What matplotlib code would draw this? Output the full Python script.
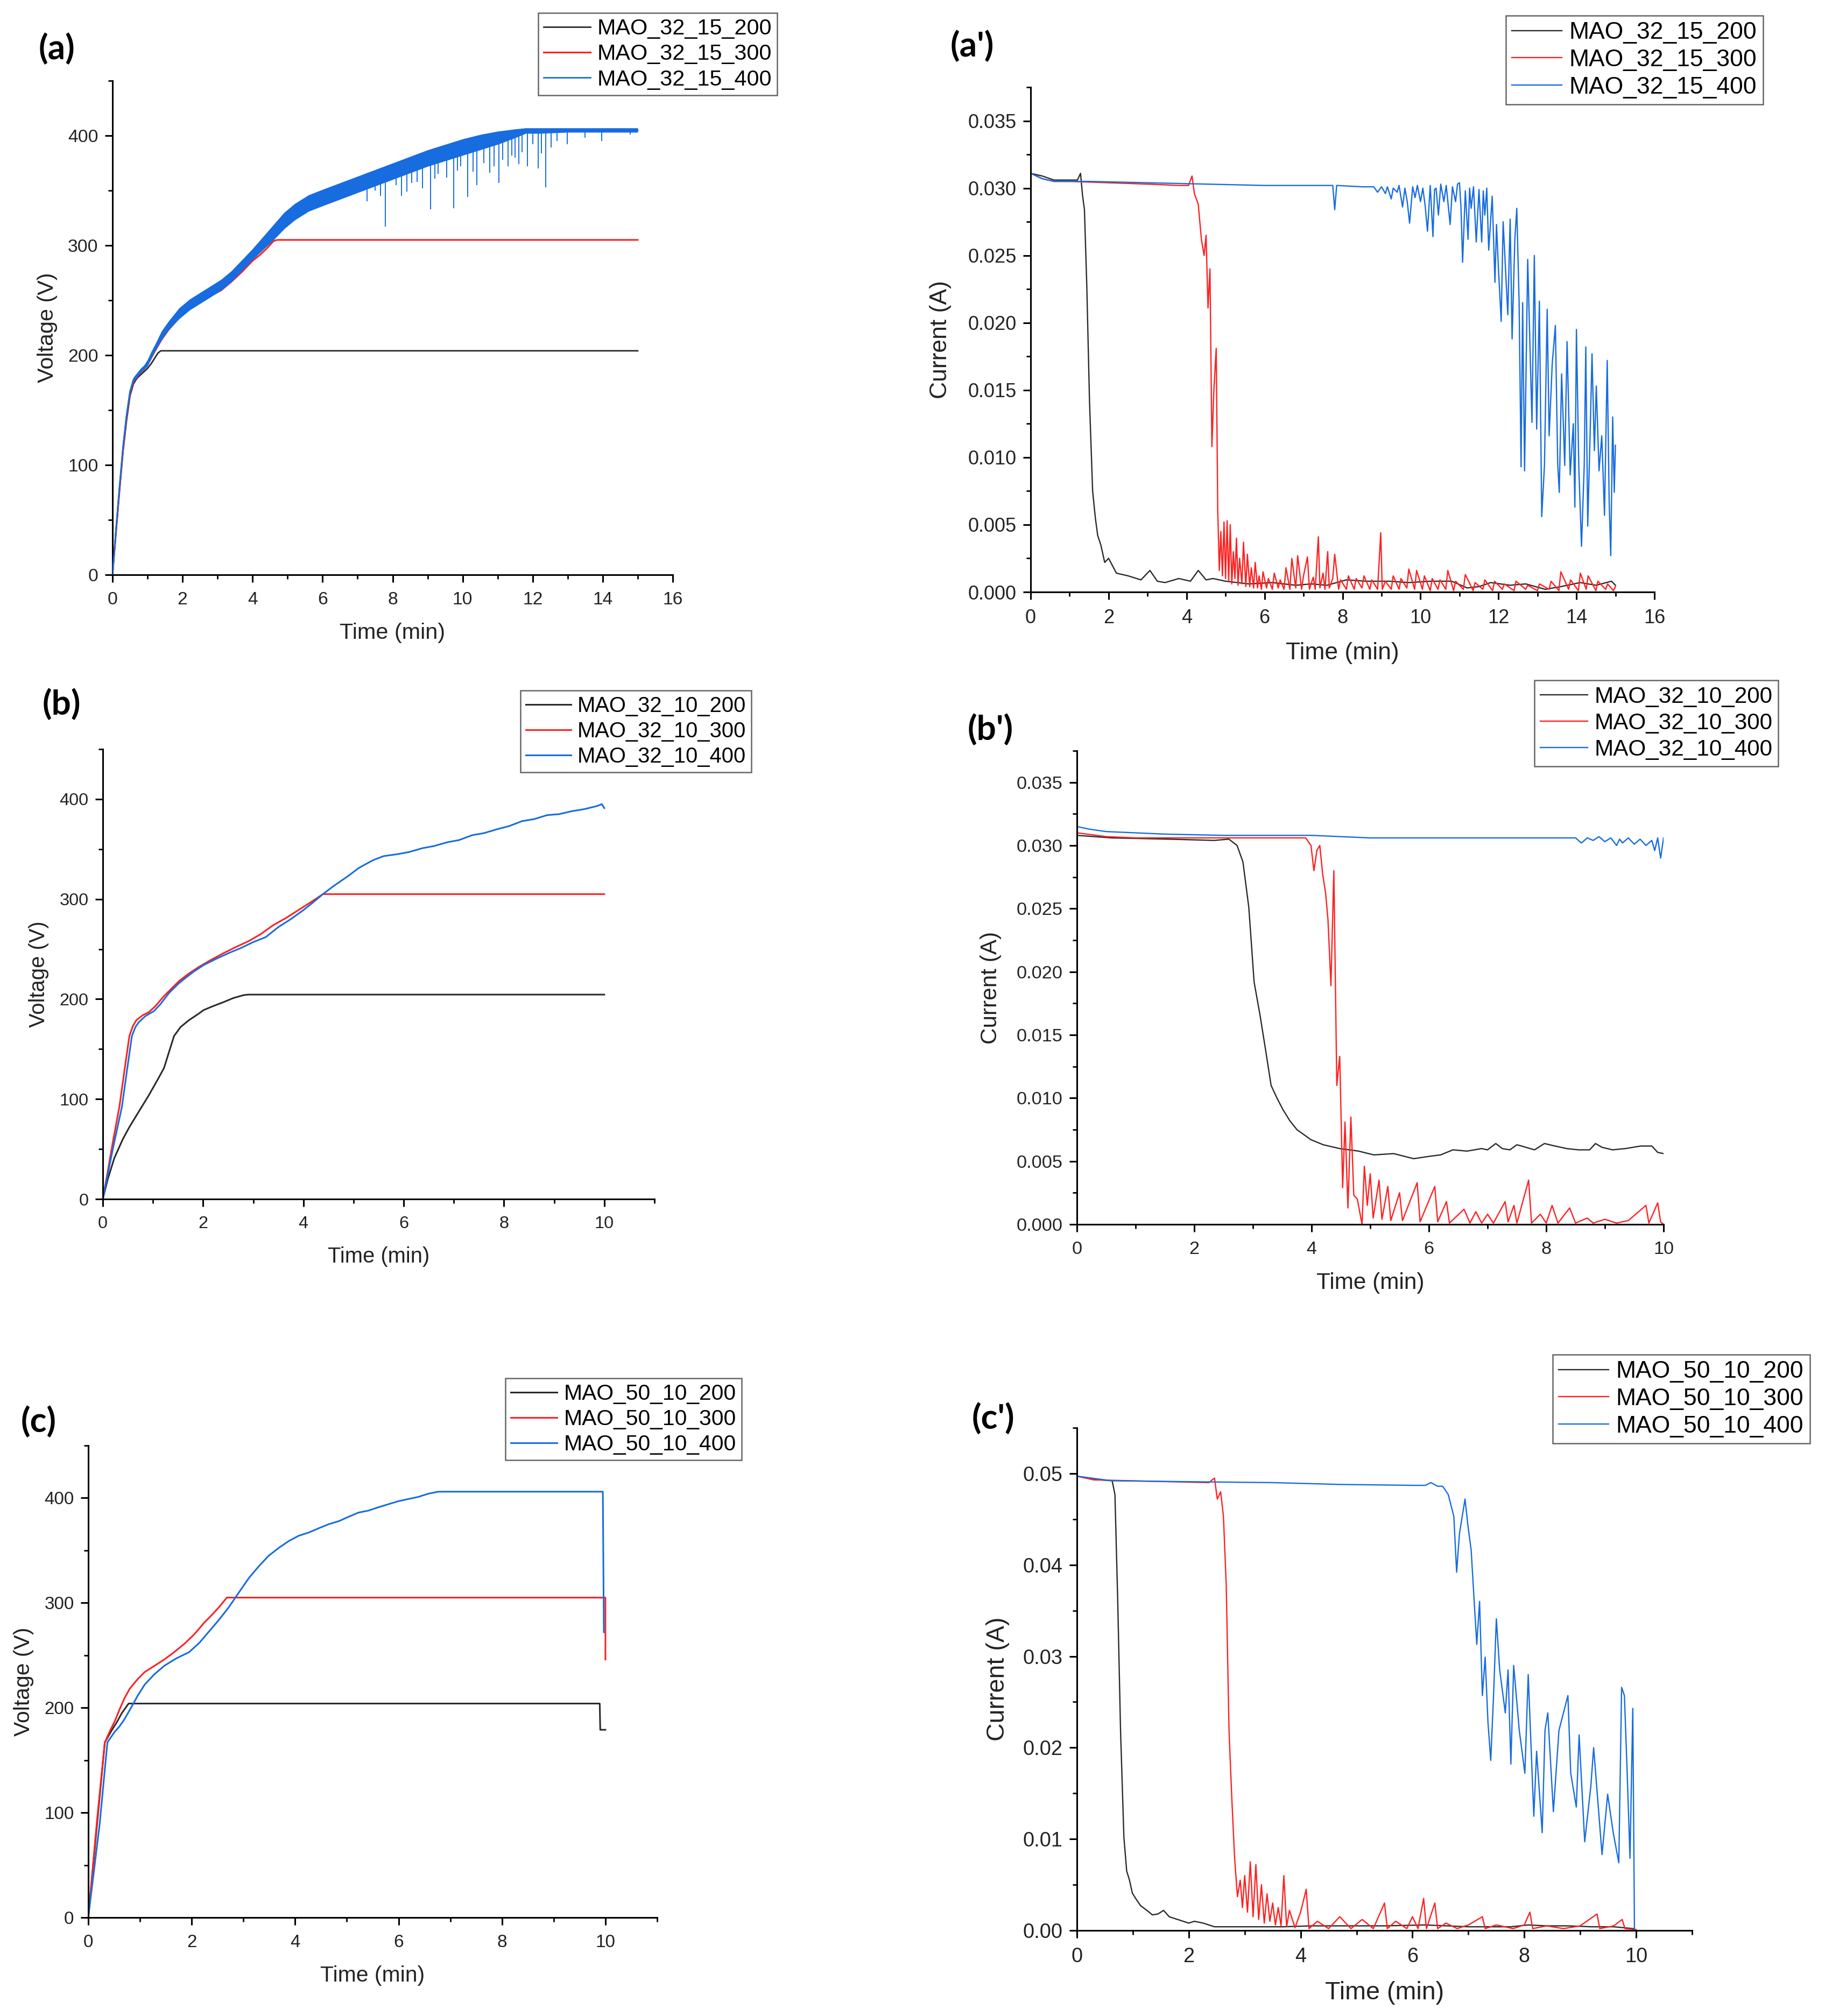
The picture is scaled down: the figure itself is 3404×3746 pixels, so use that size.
import numpy as np
import matplotlib
matplotlib.use('Agg')
import matplotlib.pyplot as plt
from matplotlib.ticker import MultipleLocator, FormatStrFormatter

plt.rcParams['font.family'] = ['Liberation Sans', 'DejaVu Sans']

BLACK = '#2a2a2a'
RED = '#ff2020'
BLUE = '#176ce0'

# ---------------- (a) voltage, 15 min runs ----------------
a_t200 = [0, 0.1, 0.2, 0.3, 0.4, 0.5, 0.6, 0.7, 0.8, 0.9,
          1.0, 1.1, 1.2, 1.3, 1.38, 15.0]
a_v200 = [0, 38, 76, 112, 140, 163, 174, 179, 182, 185,
          188, 192, 197, 202, 204, 204]

a_t300 = [0, 0.1, 0.2, 0.3, 0.4, 0.5, 0.6, 0.7, 0.8, 0.9,
          1.0, 1.1, 1.2, 1.4, 1.6, 1.9, 2.2, 2.5, 2.8, 3.1,
          3.4, 3.7, 4.0, 4.2, 4.4, 4.6, 4.7, 15.0]
a_v300 = [0, 40, 78, 114, 143, 165, 176, 180, 184, 187,
          191, 197, 203, 214, 223, 234, 242, 248, 254, 259,
          267, 276, 286, 291, 297, 304, 305, 305]

a_t400 = [0, 0.1, 0.2, 0.3, 0.4, 0.5, 0.6, 0.7, 0.8, 0.9,
          1.0, 1.1, 1.2, 1.4, 1.6, 1.9, 2.2, 2.5, 2.8, 3.1,
          3.4, 3.7, 4.0, 4.3, 4.6, 4.9, 5.2, 5.6, 6.0, 6.5,
          7.0, 7.5, 8.0, 8.5, 9.0, 9.5, 10.0, 10.5, 11.0, 11.5,
          11.8, 12.2, 13.0, 14.0, 15.0]
a_v400 = [0, 41, 80, 116, 145, 167, 178, 182, 186, 189,
          193, 200, 206, 218, 227, 238, 246, 252, 258, 264,
          272, 282, 292, 302, 312, 323, 331, 339, 344, 350,
          356, 362, 368, 374, 380, 385, 390, 395, 399, 403,
          405, 405, 405, 405, 405]
# upper / lower edge of the noisy blue band
a_v400_hi = [0, 43, 82, 118, 147, 169, 180, 184, 188, 191,
             196, 203, 209, 222, 231, 243, 251, 257, 263, 269,
             277, 287, 297, 308, 319, 330, 338, 346, 351, 357,
             363, 369, 375, 381, 387, 392, 397, 401, 404, 406,
             407, 407, 407, 407, 407]
a_v400_lo = [0, 39, 78, 114, 143, 165, 176, 180, 184, 187,
             190, 197, 203, 214, 223, 233, 241, 247, 253, 259,
             267, 277, 287, 296, 305, 315, 323, 331, 336, 342,
             348, 354, 360, 366, 372, 377, 382, 387, 392, 398,
             402, 402, 403, 403, 403]
# downward spikes of the blue run
a_spk_t = [5.9, 6.8, 7.0, 7.27, 7.5, 7.65, 7.79, 8.1, 8.25, 8.4,
           8.55, 8.7, 8.85, 9.08, 9.2, 9.3, 9.55, 9.74, 9.85, 9.95,
           10.15, 10.3, 10.41, 10.6, 10.77, 10.9, 11.03, 11.15, 11.29, 11.4,
           11.5, 11.6, 11.7, 11.85, 12.0, 12.15, 12.25, 12.37, 12.52, 12.7,
           12.98, 13.5, 13.97, 14.79]
a_spk_v = [338, 345, 350, 340, 350, 345, 317, 355, 345, 349,
           357, 358, 352, 333, 361, 365, 362, 334, 368, 372,
           344, 367, 355, 375, 366, 372, 357, 378, 372, 382,
           380, 374, 385, 372, 392, 370, 384, 353, 389, 395,
           392, 398, 395, 401]

# ---------------- (a') current, 15 min runs ----------------
ap_t200 = [0, 0.3, 0.6, 1.0, 1.2, 1.28, 1.33, 1.38, 1.44, 1.51,
           1.59, 1.66, 1.72, 1.8, 1.9, 2.0, 2.2, 2.5, 2.83, 3.06,
           3.25, 3.45, 3.8, 4.1, 4.3, 4.5, 4.68, 5.0, 5.6, 6.2,
           6.8, 7.2, 7.6, 8.1, 8.6, 9.2, 9.7, 10.25, 10.8, 11.2,
           11.5, 11.8, 12.3, 12.7, 13.2, 13.6, 14.1, 14.5, 14.9, 15.0]
ap_i200 = [0.0311, 0.0309, 0.0306, 0.0306, 0.0306, 0.0311, 0.0295, 0.0284, 0.0228, 0.0142,
           0.0075, 0.0055, 0.0042, 0.0035, 0.0022, 0.0025, 0.0014, 0.0012, 0.0009, 0.0016,
           0.0008, 0.0007, 0.0010, 0.0008, 0.0016, 0.0009, 0.0010, 0.0008, 0.0006, 0.0007,
           0.0005, 0.0006, 0.0005, 0.0009, 0.0008, 0.0008, 0.0007, 0.0008, 0.0008, 0.0003,
           0.0004, 0.0007, 0.0005, 0.0006, 0.0002, 0.0004, 0.0007, 0.0005, 0.0008, 0.0005]

ap_t300 = [0, 0.3, 0.6, 1.0, 2.0, 3.0, 3.8, 4.05, 4.14, 4.2,
           4.3, 4.38, 4.45, 4.5, 4.55, 4.6, 4.65, 4.7, 4.76, 4.8,
           4.84, 4.88, 4.92, 4.96, 5.0, 5.04, 5.08, 5.12, 5.16, 5.2,
           5.24, 5.28, 5.32, 5.36, 5.42, 5.46, 5.52, 5.56, 5.62, 5.66,
           5.72, 5.76, 5.82, 5.86, 5.92, 5.96, 6.05, 6.1, 6.2, 6.25,
           6.35, 6.4, 6.5, 6.55, 6.65, 6.7, 6.8, 6.85, 6.95, 7.0,
           7.1, 7.15, 7.25, 7.3, 7.38, 7.42, 7.5, 7.55, 7.62, 7.66,
           7.75, 7.8, 7.9, 7.95, 8.1, 8.15, 8.3, 8.35, 8.5, 8.55,
           8.7, 8.75, 8.9, 8.98, 9.02, 9.1, 9.25, 9.3, 9.45, 9.5,
           9.65, 9.7, 9.85, 9.9, 10.05, 10.1, 10.25, 10.3, 10.45, 10.5,
           10.65, 10.7, 10.85, 10.9, 11.1, 11.15, 11.35, 11.4, 11.6, 11.65,
           11.85, 11.9, 12.1, 12.15, 12.4, 12.45, 12.7, 12.75, 13.0, 13.05,
           13.3, 13.35, 13.55, 13.6, 13.8, 13.85, 14.05, 14.1, 14.25, 14.3,
           14.5, 14.55, 14.75, 14.8, 14.95, 15.0]
ap_i300 = [0.0311, 0.0307, 0.0305, 0.0305, 0.0304, 0.0303, 0.0302, 0.0302, 0.0309, 0.0296,
           0.0288, 0.0262, 0.0250, 0.0265, 0.0211, 0.0240, 0.0108, 0.0150, 0.0181, 0.0060,
           0.0016, 0.0045, 0.0012, 0.0052, 0.0010, 0.0053, 0.0008, 0.0050, 0.0006, 0.0030,
           0.0010, 0.0040, 0.0005, 0.0025, 0.0006, 0.0037, 0.0004, 0.0028, 0.0004, 0.0018,
           0.0003, 0.0022, 0.0003, 0.0012, 0.0002, 0.0015, 0.0003, 0.0010, 0.0002, 0.0014,
           0.0003, 0.0009, 0.0002, 0.0018, 0.0002, 0.0025, 0.0003, 0.0027, 0.0002, 0.0012,
           0.0026, 0.0002, 0.0011, 0.0002, 0.0041, 0.0003, 0.0014, 0.0002, 0.0030, 0.0003,
           0.0010, 0.0028, 0.0002, 0.0009, 0.0002, 0.0012, 0.0002, 0.0010, 0.0003, 0.0012,
           0.0002, 0.0009, 0.0002, 0.0044, 0.0002, 0.0008, 0.0002, 0.0012, 0.0002, 0.0010,
           0.0003, 0.0017, 0.0002, 0.0016, 0.0002, 0.0012, 0.0001, 0.0010, 0.0002, 0.0009,
           0.0002, 0.0016, 0.0001, 0.0008, 0.0002, 0.0013, 0.0001, 0.0007, 0.0002, 0.0009,
           0.0001, 0.0008, 0.0002, 0.0006, 0.0001, 0.0008, 0.0002, 0.0005, 0.0001, 0.0006,
           0.0002, 0.0008, 0.0001, 0.0015, 0.0002, 0.0009, 0.0001, 0.0014, 0.0002, 0.0012,
           0.0001, 0.0008, 0.0002, 0.0006, 0.0001, 0.0004]

ap_t400 = [0, 0.3, 0.6, 1.5, 3.0, 4.5, 6.0, 7.0, 7.75, 7.8,
           7.85, 8.5, 8.8, 8.9, 9.0, 9.1, 9.15, 9.25, 9.3, 9.4,
           9.45, 9.54, 9.6, 9.66, 9.72, 9.8, 9.86, 9.92, 10.0, 10.06,
           10.12, 10.18, 10.25, 10.32, 10.36, 10.4, 10.46, 10.52, 10.6, 10.66,
           10.76, 10.82, 10.9, 10.95, 11.0, 11.04, 11.08, 11.15, 11.22, 11.26,
           11.3, 11.36, 11.43, 11.5, 11.57, 11.61, 11.65, 11.7, 11.75, 11.84,
           11.91, 11.95, 12.0, 12.07, 12.12, 12.24, 12.3, 12.35, 12.42, 12.47,
           12.53, 12.58, 12.62, 12.67, 12.75, 12.86, 12.92, 12.98, 13.05, 13.11,
           13.18, 13.25, 13.3, 13.38, 13.46, 13.52, 13.56, 13.62, 13.7, 13.76,
           13.84, 13.92, 13.96, 14.0, 14.06, 14.13, 14.2, 14.24, 14.29, 14.35,
           14.4, 14.46, 14.51, 14.58, 14.65, 14.72, 14.79, 14.84, 14.88, 14.93,
           14.97, 15.0]
ap_i400 = [0.0311, 0.0307, 0.0305, 0.0305, 0.0304, 0.0303, 0.0302, 0.0302, 0.0302, 0.0284,
           0.0302, 0.0301, 0.0301, 0.0297, 0.0301, 0.0296, 0.0301, 0.0292, 0.0300, 0.0297,
           0.0302, 0.0286, 0.0300, 0.0290, 0.0274, 0.0301, 0.0293, 0.0302, 0.0290, 0.0300,
           0.0287, 0.0268, 0.0302, 0.0264, 0.0299, 0.0300, 0.0280, 0.0303, 0.0290, 0.0302,
           0.0273, 0.0301, 0.0290, 0.0303, 0.0304, 0.0285, 0.0245, 0.0298, 0.0262, 0.0300,
           0.0285, 0.0301, 0.0260, 0.0299, 0.0260, 0.0298, 0.0280, 0.0300, 0.0254, 0.0294,
           0.0230, 0.0273, 0.0240, 0.0201, 0.0275, 0.0206, 0.0277, 0.0188, 0.0262, 0.0285,
           0.0215, 0.0093, 0.0215, 0.0090, 0.0247, 0.0126, 0.0250, 0.0121, 0.0216, 0.0056,
           0.0094, 0.0210, 0.0116, 0.0170, 0.0198, 0.0095, 0.0074, 0.0162, 0.0094, 0.0186,
           0.0087, 0.0125, 0.0063, 0.0195, 0.0094, 0.0034, 0.0094, 0.0182, 0.0049, 0.0116,
           0.0177, 0.0105, 0.0153, 0.0090, 0.0116, 0.0057, 0.0172, 0.0067, 0.0027, 0.0130,
           0.0074, 0.0109]

# ---------------- (b) voltage, 10 min runs ----------------
b_t200 = [0, 0.1, 0.23, 0.4, 0.53, 0.7, 0.92, 1.1, 1.22, 1.32,
          1.42, 1.55, 1.72, 1.9, 2.01, 2.2, 2.41, 2.6, 2.81, 2.9,
          10.0]
b_v200 = [0, 20, 41, 60, 72, 86, 104, 120, 131, 147,
          163, 172, 179, 185, 189, 193, 197, 201, 204, 204.5,
          204.5]

b_t300 = [0, 0.1, 0.2, 0.33, 0.45, 0.53, 0.6, 0.67, 0.8, 0.92,
          1.05, 1.22, 1.4, 1.52, 1.7, 1.91, 2.15, 2.41, 2.65, 2.91,
          3.15, 3.4, 3.65, 3.9, 4.15, 4.39, 10.0]
b_v300 = [0, 28, 57, 92, 135, 163, 173, 179, 184, 187,
          193, 203, 212, 218, 225, 232, 239, 246, 252, 258,
          265, 274, 281, 289, 297, 305, 305]

b_t400 = [0, 0.1, 0.2, 0.38, 0.5, 0.58, 0.65, 0.72, 0.85, 1.02,
          1.15, 1.32, 1.5, 1.62, 1.8, 2.01, 2.25, 2.51, 2.75, 3.0,
          3.25, 3.5, 3.75, 4.0, 4.2, 4.39, 4.6, 4.89, 5.1, 5.39,
          5.6, 5.88, 6.1, 6.38, 6.6, 6.88, 7.1, 7.37, 7.6, 7.87,
          8.1, 8.36, 8.6, 8.86, 9.1, 9.36, 9.6, 9.85, 9.95, 10.0]
b_v400 = [0, 25, 50, 92, 135, 163, 172, 177, 183, 188,
          195, 206, 215, 220, 227, 234, 240, 246, 251, 257,
          262, 272, 280, 289, 297, 305, 313, 323, 331, 339,
          343, 345, 347, 351, 353, 357, 359, 364, 366, 370,
          373, 378, 380, 384, 385, 388, 390, 393, 395, 391]

# ---------------- (b') current, 10 min runs ----------------
bp_t200 = [0, 0.6, 1.57, 2.34, 2.59, 2.73, 2.83, 2.93, 2.97, 3.02,
           3.12, 3.22, 3.31, 3.41, 3.51, 3.63, 3.75, 3.87, 3.99, 4.2,
           4.48, 4.8, 5.06, 5.4, 5.74, 6.03, 6.2, 6.41, 6.65, 6.9,
           7.0, 7.14, 7.25, 7.38, 7.5, 7.58, 7.8, 7.97, 8.15, 8.35,
           8.55, 8.74, 8.84, 8.95, 9.13, 9.35, 9.61, 9.8, 9.9, 10.0]
bp_i200 = [0.0308, 0.0306, 0.0305, 0.0304, 0.0305, 0.0300, 0.0287, 0.0251, 0.0225, 0.0192,
           0.0166, 0.0137, 0.0110, 0.0100, 0.0091, 0.0082, 0.0075, 0.0071, 0.0067, 0.0063,
           0.0060, 0.0058, 0.0055, 0.0056, 0.0052, 0.0054, 0.0055, 0.0059, 0.0058, 0.0060,
           0.0059, 0.0064, 0.0060, 0.0059, 0.0063, 0.0062, 0.0059, 0.0064, 0.0062, 0.0060,
           0.0059, 0.0059, 0.0064, 0.0061, 0.0059, 0.0060, 0.0062, 0.0062, 0.0057, 0.0056]

bp_t300 = [0, 0.5, 1.0, 2.0, 3.0, 3.9, 3.99, 4.04, 4.09, 4.14,
           4.19, 4.24, 4.28, 4.33, 4.38, 4.43, 4.48, 4.53, 4.57, 4.62,
           4.67, 4.72, 4.78, 4.86, 4.9, 4.95, 5.0, 5.05, 5.15, 5.2,
           5.3, 5.35, 5.5, 5.55, 5.8, 5.85, 6.1, 6.15, 6.3, 6.35,
           6.6, 6.7, 6.8, 6.9, 7.0, 7.1, 7.3, 7.35, 7.45, 7.5,
           7.7, 7.75, 7.9, 8.0, 8.1, 8.2, 8.4, 8.5, 8.7, 8.8,
           9.0, 9.2, 9.4, 9.7, 9.75, 9.9, 9.95, 10.0]
bp_i300 = [0.0310, 0.0307, 0.0306, 0.0306, 0.0306, 0.0306, 0.0300, 0.0280, 0.0296, 0.0300,
           0.0277, 0.0262, 0.0241, 0.0189, 0.0280, 0.0110, 0.0133, 0.0029, 0.0081, 0.0013,
           0.0085, 0.0023, 0.0020, 0.0000, 0.0046, 0.0015, 0.0040, 0.0005, 0.0035, 0.0004,
           0.0030, 0.0003, 0.0025, 0.0003, 0.0033, 0.0002, 0.0030, 0.0002, 0.0018, 0.0001,
           0.0012, 0.0001, 0.0010, 0.0001, 0.0008, 0.0001, 0.0018, 0.0002, 0.0015, 0.0001,
           0.0035, 0.0001, 0.0008, 0.0001, 0.0015, 0.0001, 0.0013, 0.0001, 0.0005, 0.0001,
           0.0004, 0.0001, 0.0003, 0.0015, 0.0001, 0.0017, 0.0002, 0.0000]

bp_t400 = [0, 0.2, 0.5, 1.0, 1.5, 2.5, 4.0, 5.0, 6.0, 7.0,
           8.0, 8.5, 8.6, 8.7, 8.8, 8.9, 9.0, 9.1, 9.2, 9.25,
           9.3, 9.4, 9.5, 9.6, 9.7, 9.8, 9.85, 9.9, 9.95, 10.0]
bp_i400 = [0.0315, 0.0313, 0.0311, 0.0310, 0.0309, 0.0308, 0.0308, 0.0306, 0.0306, 0.0306,
           0.0306, 0.0306, 0.0302, 0.0306, 0.0304, 0.0307, 0.0303, 0.0306, 0.0300, 0.0305,
           0.0302, 0.0306, 0.0301, 0.0305, 0.0300, 0.0304, 0.0296, 0.0306, 0.0290, 0.0306]

# ---------------- (c) voltage, 10 min runs ----------------
c_t200 = [0, 0.17, 0.32, 0.46, 0.55, 0.65, 0.78, 9.89, 9.9, 10.0]
c_v200 = [0, 89, 167, 179, 186, 195, 204, 204, 179, 179]

c_t300 = [0, 0.17, 0.32, 0.43, 0.52, 0.61, 0.7, 0.8, 0.95, 1.09,
          1.28, 1.47, 1.66, 1.86, 2.05, 2.24, 2.4, 2.53, 2.68, 10.0,
          10.0]
c_v300 = [0, 93, 167, 179, 188, 199, 209, 218, 227, 234,
          240, 246, 253, 261, 270, 281, 289, 296, 305, 305,
          246]

c_t400 = [0, 0.22, 0.37, 0.51, 0.6, 0.7, 0.85, 0.95, 1.09, 1.28,
          1.47, 1.7, 1.95, 2.15, 2.34, 2.53, 2.72, 2.9, 3.11, 3.3,
          3.49, 3.7, 3.88, 4.07, 4.26, 4.45, 4.65, 4.85, 5.03, 5.22,
          5.42, 5.6, 5.8, 6.0, 6.19, 6.38, 6.57, 6.77, 9.95, 9.97]
c_v400 = [0, 89, 167, 177, 182, 189, 202, 211, 222, 232,
          240, 247, 253, 262, 273, 284, 296, 309, 324, 335,
          345, 353, 359, 364, 367, 371, 375, 378, 382, 386,
          388, 391, 394, 397, 399, 401, 404, 406, 406, 272]

# ---------------- (c') current, 10 min runs ----------------
cp_t200 = [0, 0.43, 0.63, 0.68, 0.73, 0.78, 0.84, 0.89, 0.94, 0.99,
           1.05, 1.14, 1.25, 1.35, 1.45, 1.55, 1.65, 1.75, 1.85, 2.0,
           2.1, 2.26, 2.46, 3.0, 3.69, 4.2, 4.7, 5.5, 6.23, 7.0,
           7.76, 8.07, 8.4, 8.78, 9.2, 9.6, 9.95]
cp_i200 = [0.0497, 0.0493, 0.0492, 0.0477, 0.0360, 0.0219, 0.0102, 0.0065, 0.0055, 0.0041,
           0.0035, 0.0027, 0.0022, 0.0017, 0.0018, 0.0022, 0.0015, 0.0013, 0.0011, 0.0008,
           0.0010, 0.0008, 0.0004, 0.0004, 0.0004, 0.0005, 0.0005, 0.0005, 0.0006, 0.0004,
           0.0004, 0.0006, 0.0005, 0.0005, 0.0004, 0.0004, 0.0002]

cp_t300 = [0, 0.3, 1.0, 1.65, 2.36, 2.46, 2.51, 2.57, 2.62, 2.67,
           2.72, 2.77, 2.82, 2.87, 2.92, 2.96, 3.0, 3.05, 3.1, 3.15,
           3.2, 3.25, 3.3, 3.35, 3.4, 3.45, 3.5, 3.55, 3.6, 3.65,
           3.7, 3.75, 3.8, 3.9, 4.0, 4.1, 4.15, 4.3, 4.5, 4.7,
           4.9, 5.1, 5.3, 5.5, 5.55, 5.7, 5.9, 6.0, 6.1, 6.2,
           6.25, 6.4, 6.45, 6.6, 6.8, 7.0, 7.25, 7.3, 7.5, 7.8,
           8.0, 8.1, 8.15, 8.4, 8.7, 9.0, 9.3, 9.35, 9.6, 9.75,
           9.8, 10.0]
cp_i300 = [0.0497, 0.0493, 0.0492, 0.0491, 0.0490, 0.0495, 0.0472, 0.0480, 0.0453, 0.0378,
           0.0219, 0.0144, 0.0079, 0.0037, 0.0055, 0.0025, 0.0060, 0.0020, 0.0075, 0.0015,
           0.0072, 0.0012, 0.0050, 0.0008, 0.0040, 0.0010, 0.0030, 0.0006, 0.0025, 0.0005,
           0.0060, 0.0004, 0.0022, 0.0003, 0.0020, 0.0045, 0.0002, 0.0010, 0.0002, 0.0015,
           0.0002, 0.0012, 0.0002, 0.0030, 0.0002, 0.0010, 0.0002, 0.0015, 0.0002, 0.0035,
           0.0002, 0.0030, 0.0002, 0.0008, 0.0002, 0.0006, 0.0015, 0.0002, 0.0006, 0.0002,
           0.0006, 0.0020, 0.0002, 0.0005, 0.0002, 0.0005, 0.0018, 0.0002, 0.0005, 0.0012,
           0.0002, 0.0001]

cp_t400 = [0, 0.63, 2.0, 3.5, 4.7, 6.0, 6.23, 6.33, 6.45, 6.54,
           6.64, 6.74, 6.79, 6.84, 6.94, 6.99, 7.05, 7.1, 7.15, 7.2,
           7.25, 7.3, 7.35, 7.4, 7.45, 7.5, 7.56, 7.66, 7.71, 7.76,
           7.81, 7.91, 8.01, 8.07, 8.17, 8.22, 8.32, 8.37, 8.42, 8.52,
           8.62, 8.78, 8.83, 8.93, 8.98, 9.08, 9.19, 9.24, 9.39, 9.49,
           9.59, 9.69, 9.74, 9.79, 9.84, 9.89, 9.94, 9.97]
cp_i400 = [0.0497, 0.0492, 0.0491, 0.0490, 0.0488, 0.0487, 0.0487, 0.0490, 0.0486, 0.0486,
           0.0477, 0.0453, 0.0392, 0.0434, 0.0472, 0.0444, 0.0416, 0.0364, 0.0313, 0.0360,
           0.0257, 0.0299, 0.0228, 0.0186, 0.0257, 0.0341, 0.0285, 0.0238, 0.0285, 0.0182,
           0.0290, 0.0219, 0.0172, 0.0280, 0.0125, 0.0196, 0.0107, 0.0219, 0.0238, 0.0130,
           0.0219, 0.0257, 0.0172, 0.0135, 0.0214, 0.0097, 0.0158, 0.0200, 0.0083, 0.0149,
           0.0107, 0.0074, 0.0266, 0.0257, 0.0172, 0.0079, 0.0243, 0.0000]

labels_a = ['MAO_32_15_200', 'MAO_32_15_300', 'MAO_32_15_400']
labels_b = ['MAO_32_10_200', 'MAO_32_10_300', 'MAO_32_10_400']
labels_c = ['MAO_50_10_200', 'MAO_50_10_300', 'MAO_50_10_400']

W, H = 3405, 3746
fig = plt.figure(figsize=(W / 100, H / 100), dpi=100)


def px_axes(left, right, bottom, top):
    # axes placed from pixel edges measured on the reference
    return fig.add_axes([left / W, 1 - bottom / H, (right - left) / W, (bottom - top) / H])


def style(ax, xmax, xstep, ymax, ystep, fmt, s, ylabel, ypad=14):
    ax.set_xlim(0, xmax)
    ax.set_ylim(0, ymax)
    for side in ['top', 'right']:
        ax.spines[side].set_visible(False)
    for side in ['left', 'bottom']:
        ax.spines[side].set_linewidth(2.2)
    ax.xaxis.set_major_locator(MultipleLocator(xstep))
    ax.xaxis.set_minor_locator(MultipleLocator(xstep / 2))
    ax.yaxis.set_major_locator(MultipleLocator(ystep))
    ax.yaxis.set_minor_locator(MultipleLocator(ystep / 2))
    ax.yaxis.set_major_formatter(FormatStrFormatter(fmt))
    ax.xaxis.set_major_formatter(FormatStrFormatter('%d'))
    ax.tick_params(which='major', direction='out', length=10, width=2.2,
                   labelsize=26 * s, labelcolor='#222222')
    ax.tick_params(axis='x', which='major', pad=12)
    ax.tick_params(axis='y', which='major', pad=9)
    ax.tick_params(which='minor', direction='out', length=5.5, width=2.0)
    ax.set_xlabel('Time (min)', fontsize=32 * s, labelpad=20, color='#222222')
    ax.set_ylabel(ylabel, fontsize=32 * s, labelpad=ypad, color='#222222')


def add_legend(ax, x, y, s):
    leg = ax.legend(loc='upper left', bbox_to_anchor=(x / W, 1 - y / H),
                    bbox_transform=fig.transFigure, fontsize=32 * s,
                    frameon=True, fancybox=False, framealpha=1,
                    edgecolor='#666666', borderpad=0.25, labelspacing=0.22,
                    handlelength=2.1, handletextpad=0.3, borderaxespad=0)
    leg.get_frame().set_linewidth(1.8)


def draw_three(ax, series, labels, lw=2.0):
    for (t, v), c, lab in zip(series, [BLACK, RED, BLUE], labels):
        ax.plot(t, v, color=c, lw=lw, label=lab)


# (a)
ax = px_axes(209, 1250, 1068, 150)
ax.plot(a_t200, a_v200, color=BLACK, lw=2.0, label=labels_a[0])
ax.plot(a_t300, a_v300, color=RED, lw=2.2, label=labels_a[1])
ax.fill_between(a_t400, a_v400_lo, a_v400_hi, color=BLUE, lw=0, zorder=3)
ax.vlines(a_spk_t, a_spk_v, np.interp(a_spk_t, a_t400, a_v400), colors=BLUE, lw=1.4, zorder=3)
ax.plot(a_t400, a_v400, color=BLUE, lw=2.0, label=labels_a[2], zorder=3)
style(ax, 16, 2, 450, 100, '%d', 0.93, 'Voltage (V)')
add_legend(ax, 1000, 24, 0.93)

# (a')
ax = px_axes(1915, 3074, 1100, 162)
draw_three(ax, [(ap_t200, ap_i200), (ap_t300, ap_i300), (ap_t400, ap_i400)], labels_a, lw=1.7)
style(ax, 16, 2, 0.0375, 0.005, '%.3f', 1.0, 'Current (A)', ypad=22)
add_legend(ax, 2798, 29, 1.0)

# (b)
ax = px_axes(191, 1216, 2228, 1392)
draw_three(ax, [(b_t200, b_v200), (b_t300, b_v300), (b_t400, b_v400)], labels_b, lw=2.2)
style(ax, 11, 2, 450, 100, '%d', 0.9, 'Voltage (V)')
add_legend(ax, 967, 1283, 0.9)

# (b')
ax = px_axes(2001, 3091, 2275, 1395)
draw_three(ax, [(bp_t200, bp_i200), (bp_t300, bp_i300), (bp_t400, bp_i400)], labels_b, lw=1.7)
style(ax, 10, 2, 0.0375, 0.005, '%.3f', 0.95, 'Current (A)', ypad=20)
add_legend(ax, 2851, 1264, 0.95)

# (c)
ax = px_axes(164, 1221, 3563, 2686)
draw_three(ax, [(c_t200, c_v200), (c_t300, c_v300), (c_t400, c_v400)], labels_c, lw=2.2)
style(ax, 11, 2, 450, 100, '%d', 0.92, 'Voltage (V)')
add_legend(ax, 939, 2561, 0.92)

# (c')
ax = px_axes(2001, 3144, 3587, 2653)
draw_three(ax, [(cp_t200, cp_i200), (cp_t300, cp_i300), (cp_t400, cp_i400)], labels_c, lw=1.7)
style(ax, 11, 2, 0.055, 0.01, '%.2f', 1.05, 'Current (A)', ypad=18)
add_legend(ax, 2885, 2517, 1.0)

# panel letters
for txt, x, y in [('(a)', 106, 90), ("(a')", 1806, 85), ('(b)', 114, 1308),
                  ("(b')", 1840, 1355), ('(c)', 72, 2641), ("(c')", 1845, 2635)]:
    fig.text(x / W, 1 - y / H, txt, fontsize=46, fontweight='bold',
             family=['Lato', 'DejaVu Sans'], ha='center', va='center')

fig.savefig('out.png', dpi=100, facecolor='white')
